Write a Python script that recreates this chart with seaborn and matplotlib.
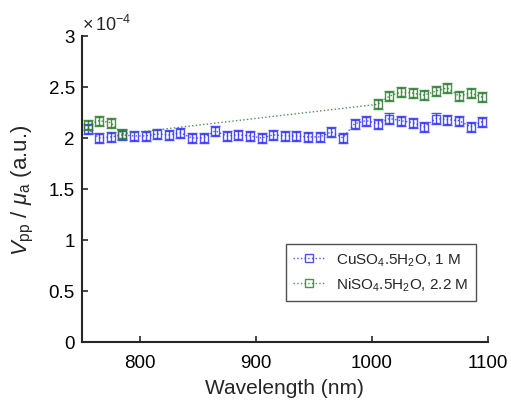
import numpy as np
import pandas as pd
import matplotlib
matplotlib.use("Agg")
import matplotlib.pyplot as plt
import matplotlib.ticker as mticker
import seaborn as sns

# Values (units of 1e-4)
cu_wl = [755, 765, 775, 785, 795, 805, 815, 825, 835, 845, 855, 865, 875, 885,
         895, 905, 915, 925, 935, 945, 955, 965, 975, 985, 995, 1005, 1015,
         1025, 1035, 1045, 1055, 1065, 1075, 1085, 1095]
cu_val = [2.09, 2.00, 2.01, 2.03, 2.02, 2.02, 2.04, 2.03, 2.05, 2.00, 2.00,
          2.07, 2.02, 2.03, 2.02, 2.00, 2.03, 2.02, 2.02, 2.01, 2.01, 2.06,
          2.00, 2.14, 2.17, 2.14, 2.19, 2.17, 2.15, 2.11, 2.19, 2.18, 2.17,
          2.11, 2.16]
cu_err = [0.05] * len(cu_wl)

ni_wl = [755, 765, 775, 785, 1005, 1015, 1025, 1035, 1045, 1055, 1065, 1075,
         1085, 1095]
ni_val = [2.13, 2.17, 2.15, 2.04, 2.33, 2.41, 2.45, 2.44, 2.42, 2.46, 2.49,
          2.41, 2.44, 2.40]
ni_err = [0.05] * len(ni_wl)

cu_label = r"CuSO$_4$.5H$_2$O, 1 M"
ni_label = r"NiSO$_4$.5H$_2$O, 2.2 M"

df = pd.concat([
    pd.DataFrame({"wl": cu_wl, "val": cu_val, "err": cu_err,
                  "sample": cu_label}),
    pd.DataFrame({"wl": ni_wl, "val": ni_val, "err": ni_err,
                  "sample": ni_label}),
])

sns.set_style("ticks")
plt.rcParams["font.family"] = ["Liberation Sans", "DejaVu Sans"]
plt.rcParams["mathtext.fontset"] = "custom"
plt.rcParams["mathtext.rm"] = "Liberation Sans"
plt.rcParams["mathtext.it"] = "Liberation Sans:italic"
plt.rcParams["mathtext.sf"] = "Liberation Sans"

colors = {cu_label: "#3333ff", ni_label: "#2e7d32"}

fig = plt.figure(figsize=(5.11, 4.02), dpi=100)
ax = fig.add_axes([0.160, 0.147, 0.795, 0.761])

for name, g in df.groupby("sample", sort=False):
    c = colors[name]
    sns.lineplot(data=g, x="wl", y="val", color=c, label=name,
                 marker="s", markersize=5.5, markerfacecolor="none",
                 markeredgecolor=c, markeredgewidth=1.0, linestyle=":",
                 linewidth=1.0, alpha=0.85, ax=ax, sort=False)
    ax.errorbar(g["wl"], g["val"], yerr=g["err"], fmt="none",
                ecolor=c, elinewidth=1.0, capsize=3.5, capthick=1.0, alpha=0.85)

ax.set_xlim(750, 1100)
ax.set_ylim(0, 3)
ax.set_xticks([800, 900, 1000, 1100])
ax.set_yticks(np.arange(0, 3.01, 0.5))
ax.yaxis.set_major_formatter(mticker.FuncFormatter(lambda v, p: f"{v:g}"))
ax.text(0.0, 1.005, r"$\times\,10^{-4}$", transform=ax.transAxes,
        fontsize=13, ha="left", va="bottom")
ax.tick_params(direction="in", length=4, width=1.2, labelsize=13.5,
               color="#262626", labelcolor="black")
ax.tick_params(axis="x", pad=9)
ax.tick_params(axis="y", pad=5)
for s in ["left", "bottom"]:
    ax.spines[s].set_linewidth(1.5)
    ax.spines[s].set_color("#262626")
sns.despine(ax=ax)

ax.set_xlabel("Wavelength (nm)", fontsize=15, labelpad=5)
ax.set_ylabel(r"$V_{\mathrm{pp}}$ / $\mu_{\mathrm{a}}$ (a.u.)", fontsize=16,
              labelpad=9)

leg = ax.legend(loc="lower right", bbox_to_anchor=(0.99, 0.11),
                fontsize=11, frameon=True, fancybox=False, edgecolor="#262626",
                handlelength=2.0, borderpad=0.5, labelspacing=0.5)
leg.get_frame().set_linewidth(1.0)

fig.savefig("out.png", dpi=100)
